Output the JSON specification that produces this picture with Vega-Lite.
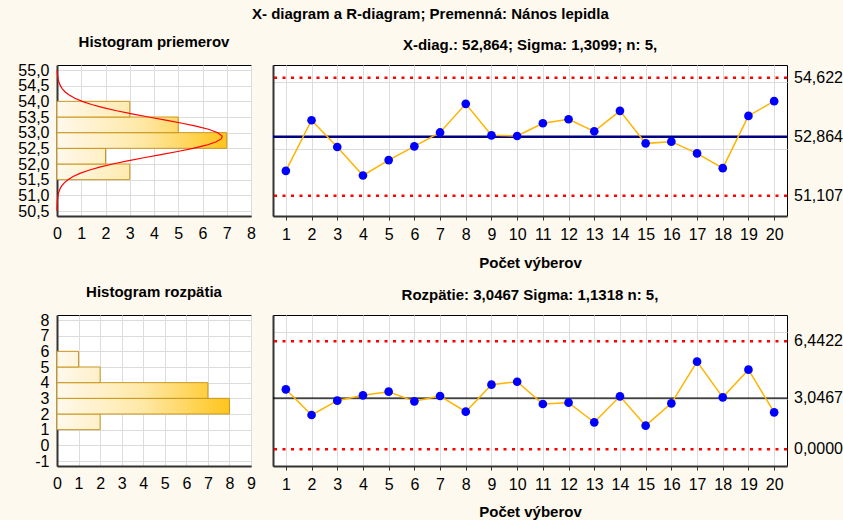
{
  "$schema": "https://vega.github.io/schema/vega-lite/v6.json",
  "background": "#FEF9EE",
  "padding": {"left": 17, "top": 6, "right": 0, "bottom": 0},
  "title": {"text": "X- diagram a R-diagram; Premenná: Nános lepidla", "anchor": "middle", "fontSize": 15, "offset": 13},
  "datasets": {
    "xbar": [
      {"s": 1, "v": 51.846}, {"s": 2, "v": 53.353}, {"s": 3, "v": 52.555}, {"s": 4, "v": 51.707},
      {"s": 5, "v": 52.166}, {"s": 6, "v": 52.575}, {"s": 7, "v": 52.99}, {"s": 8, "v": 53.842},
      {"s": 9, "v": 52.904}, {"s": 10, "v": 52.884}, {"s": 11, "v": 53.263}, {"s": 12, "v": 53.383},
      {"s": 13, "v": 53.024}, {"s": 14, "v": 53.633}, {"s": 15, "v": 52.665}, {"s": 16, "v": 52.715},
      {"s": 17, "v": 52.365}, {"s": 18, "v": 51.926}, {"s": 19, "v": 53.483}, {"s": 20, "v": 53.922}
    ],
    "xlim": [{"k": "UCL", "v": 54.622, "t": "54,622"}, {"k": "CL", "v": 52.864, "t": "52,864"}, {"k": "LCL", "v": 51.107, "t": "51,107"}],
    "xhist": [
      {"lo": 51.5, "hi": 52.0, "n": 3}, {"lo": 52.0, "hi": 52.5, "n": 2}, {"lo": 52.5, "hi": 53.0, "n": 7},
      {"lo": 53.0, "hi": 53.5, "n": 5}, {"lo": 53.5, "hi": 54.0, "n": 3}
    ],
    "xcurve": [
      {"y": 50.5, "n": 0.002}, {"y": 50.6, "n": 0.0039}, {"y": 50.7, "n": 0.0074}, {"y": 50.8, "n": 0.0137},
      {"y": 50.9, "n": 0.0247}, {"y": 51.0, "n": 0.0431}, {"y": 51.1, "n": 0.0732}, {"y": 51.2, "n": 0.12},
      {"y": 51.3, "n": 0.193}, {"y": 51.4, "n": 0.3}, {"y": 51.5, "n": 0.453}, {"y": 51.6, "n": 0.664},
      {"y": 51.7, "n": 0.946}, {"y": 51.8, "n": 1.309}, {"y": 51.9, "n": 1.758}, {"y": 52.0, "n": 2.294},
      {"y": 52.1, "n": 2.911}, {"y": 52.2, "n": 3.582}, {"y": 52.3, "n": 4.284}, {"y": 52.4, "n": 4.977},
      {"y": 52.5, "n": 5.614}, {"y": 52.6, "n": 6.152}, {"y": 52.7, "n": 6.549}, {"y": 52.8, "n": 6.769},
      {"y": 52.864, "n": 6.81}, {"y": 52.9, "n": 6.797}, {"y": 53.0, "n": 6.629}, {"y": 53.1, "n": 6.28},
      {"y": 53.2, "n": 5.777}, {"y": 53.3, "n": 5.163}, {"y": 53.4, "n": 4.481}, {"y": 53.5, "n": 3.778},
      {"y": 53.6, "n": 3.093}, {"y": 53.7, "n": 2.46}, {"y": 53.8, "n": 1.9}, {"y": 53.9, "n": 1.426},
      {"y": 54.0, "n": 1.039}, {"y": 54.1, "n": 0.735}, {"y": 54.2, "n": 0.505}, {"y": 54.3, "n": 0.338},
      {"y": 54.4, "n": 0.219}, {"y": 54.5, "n": 0.138}, {"y": 54.6, "n": 0.0844}, {"y": 54.7, "n": 0.0501},
      {"y": 54.8, "n": 0.0289}, {"y": 54.9, "n": 0.0162}, {"y": 55.0, "n": 0.0088}
    ],
    "r": [
      {"s": 1, "v": 3.569}, {"s": 2, "v": 2.039}, {"s": 3, "v": 2.894}, {"s": 4, "v": 3.212},
      {"s": 5, "v": 3.43}, {"s": 6, "v": 2.854}, {"s": 7, "v": 3.172}, {"s": 8, "v": 2.238},
      {"s": 9, "v": 3.847}, {"s": 10, "v": 4.02}, {"s": 11, "v": 2.695}, {"s": 12, "v": 2.775},
      {"s": 13, "v": 1.602}, {"s": 14, "v": 3.152}, {"s": 15, "v": 1.404}, {"s": 16, "v": 2.735},
      {"s": 17, "v": 5.218}, {"s": 18, "v": 3.092}, {"s": 19, "v": 4.742}, {"s": 20, "v": 2.198}
    ],
    "rlim": [{"k": "UCL", "v": 6.4422, "t": "6,4422"}, {"k": "CL", "v": 3.0467, "t": "3,0467"}, {"k": "LCL", "v": 0, "t": "0,0000"}],
    "rhist": [
      {"lo": 1, "hi": 2, "n": 2}, {"lo": 2, "hi": 3, "n": 8}, {"lo": 3, "hi": 4, "n": 7},
      {"lo": 4, "hi": 5, "n": 2}, {"lo": 5, "hi": 6, "n": 1}
    ]
  },
  "spacing": 13,
  "vconcat": [
    {
      "spacing": 15,
      "hconcat": [
        {
          "width": 194, "height": 151,
          "title": {"text": "Histogram priemerov", "offset": 12},
          "layer": [
            {
              "data": {"name": "xhist"},
              "mark": {"type": "bar", "orient": "horizontal", "stroke": "#C9961F", "strokeWidth": 1},
              "encoding": {
                "x": {"field": "n", "type": "quantitative", "scale": {"domain": [0, 8], "nice": false},
                      "axis": {"values": [0,1,2,3,4,5,6,7,8], "title": null, "grid": true, "tickSize": 0, "labelPadding": 9, "format": "d", "labelOverlap": false}},
                "y": {"field": "lo", "type": "quantitative", "scale": {"domain": [50.5, 55], "nice": false, "zero": false},
                      "axis": {"values": [50.5,51,51.5,52,52.5,53,53.5,54,54.5,55], "title": null, "grid": true, "tickSize": 0, "labelPadding": 8, "minExtent": 32, "maxExtent": 32, "labelOverlap": false,
                               "labelExpr": "replace(format(datum.value, '.1f'), '.', ',')"}},
                "y2": {"field": "hi"},
                "fill": {
                  "condition": [
                    {"test": "datum.n == 7", "value": {"gradient": "linear", "x1": 0, "y1": 0, "x2": 1, "y2": 0, "stops": [{"offset": 0, "color": "#FFF9EC"}, {"offset": 0.5, "color": "#FFE8A6"}, {"offset": 1, "color": "#FFC51C"}]}},
                    {"test": "datum.n == 5", "value": {"gradient": "linear", "x1": 0, "y1": 0, "x2": 1.4, "y2": 0, "stops": [{"offset": 0, "color": "#FFF9EC"}, {"offset": 0.5, "color": "#FFE8A6"}, {"offset": 1, "color": "#FFC51C"}]}},
                    {"test": "datum.n == 3", "value": {"gradient": "linear", "x1": 0, "y1": 0, "x2": 2.333, "y2": 0, "stops": [{"offset": 0, "color": "#FFF9EC"}, {"offset": 0.5, "color": "#FFE8A6"}, {"offset": 1, "color": "#FFC51C"}]}}
                  ],
                  "value": {"gradient": "linear", "x1": 0, "y1": 0, "x2": 3.5, "y2": 0, "stops": [{"offset": 0, "color": "#FFF9EC"}, {"offset": 0.5, "color": "#FFE8A6"}, {"offset": 1, "color": "#FFC51C"}]}
                }
              }
            },
            {
              "data": {"name": "xcurve"},
              "mark": {"type": "line", "color": "#FF0000", "strokeWidth": 1.2},
              "encoding": {
                "x": {"field": "n", "type": "quantitative",
                      "axis": {"values": [0,1,2,3,4,5,6,7,8], "title": null, "grid": true, "tickSize": 0, "labelPadding": 9, "format": "d", "labelOverlap": false}},
                "y": {"field": "y", "type": "quantitative",
                      "axis": {"values": [50.5,51,51.5,52,52.5,53,53.5,54,54.5,55], "title": null, "grid": true, "tickSize": 0, "labelPadding": 8, "minExtent": 32, "maxExtent": 32, "labelOverlap": false,
                               "labelExpr": "replace(format(datum.value, '.1f'), '.', ',')"}},
                "order": {"field": "y", "type": "quantitative"}
              }
            }
          ]
        },
        {
          "width": 514, "height": 151,
          "title": {"text": "X-diag.: 52,864; Sigma: 1,3099; n: 5,", "offset": 12},
          "layer": [
            {
              "data": {"name": "xlim"},
              "transform": [{"filter": "datum.k == 'CL'"}],
              "mark": {"type": "rule", "color": "#000080", "strokeWidth": 2.5},
              "encoding": {
                "y": {"field": "v", "type": "quantitative", "scale": {"domain": [50.5, 55], "nice": false, "zero": false},
                      "axis": {"values": [50.5,51,51.5,52,52.5,53,53.5,54,54.5,55], "labels": false, "title": null, "grid": true, "ticks": false, "minExtent": 0, "maxExtent": 0}}
              }
            },
            {
              "data": {"name": "xlim"},
              "transform": [{"filter": "datum.k != 'CL'"}],
              "mark": {"type": "rule", "color": "#FF0000", "strokeWidth": 2.5, "strokeDash": [3, 5.5]},
              "encoding": {
                "y": {"field": "v", "type": "quantitative"}
              }
            },
            {
              "data": {"name": "xlim"},
              "mark": {"type": "text", "align": "left", "baseline": "middle", "dx": 7, "fontSize": 16, "color": "#000000"},
              "encoding": {
                "x": {"datum": 20.5,
                      "axis": {"values": [1,2,3,4,5,6,7,8,9,10,11,12,13,14,15,16,17,18,19,20], "title": "Počet výberov", "grid": true, "tickSize": 4, "labelPadding": 6, "titlePadding": 13, "labelOverlap": false}},
                "y": {"field": "v", "type": "quantitative"},
                "text": {"field": "t"}
              }
            },
            {
              "data": {"name": "xbar"},
              "mark": {"type": "line", "color": "#FFB400", "strokeWidth": 1.5},
              "encoding": {
                "x": {"field": "s", "type": "quantitative", "scale": {"domain": [0.5, 20.5], "nice": false, "zero": false},
                      "axis": {"values": [1,2,3,4,5,6,7,8,9,10,11,12,13,14,15,16,17,18,19,20], "title": "Počet výberov", "grid": true, "tickSize": 4, "labelPadding": 6, "titlePadding": 13, "labelOverlap": false}},
                "y": {"field": "v", "type": "quantitative"}
              }
            },
            {
              "data": {"name": "xbar"},
              "mark": {"type": "circle", "color": "#0000FF", "size": 75, "opacity": 1},
              "encoding": {
                "x": {"field": "s", "type": "quantitative",
                      "axis": {"values": [1,2,3,4,5,6,7,8,9,10,11,12,13,14,15,16,17,18,19,20], "title": "Počet výberov", "grid": true, "tickSize": 4, "labelPadding": 6, "titlePadding": 13, "labelOverlap": false}},
                "y": {"field": "v", "type": "quantitative"}
              }
            }
          ]
        }
      ]
    },
    {
      "spacing": 15,
      "hconcat": [
        {
          "width": 194, "height": 151,
          "title": {"text": "Histogram rozpätia", "offset": 12},
          "data": {"name": "rhist"},
          "mark": {"type": "bar", "orient": "horizontal", "stroke": "#C9961F", "strokeWidth": 1},
          "encoding": {
            "x": {"field": "n", "type": "quantitative", "scale": {"domain": [0, 9], "nice": false},
                  "axis": {"values": [0,1,2,3,4,5,6,7,8,9], "title": null, "grid": true, "tickSize": 0, "labelPadding": 9, "format": "d", "labelOverlap": false}},
            "y": {"field": "lo", "type": "quantitative", "scale": {"domain": [-1, 8], "nice": false, "zero": false},
                  "axis": {"values": [-1,0,1,2,3,4,5,6,7,8], "title": null, "grid": true, "tickSize": 0, "labelPadding": 8, "minExtent": 32, "maxExtent": 32, "labelOverlap": false,
                           "labelExpr": "'' + datum.value"}},
            "y2": {"field": "hi"},
            "fill": {
              "condition": [
                {"test": "datum.n == 8", "value": {"gradient": "linear", "x1": 0, "y1": 0, "x2": 1, "y2": 0, "stops": [{"offset": 0, "color": "#FFF9EC"}, {"offset": 0.5, "color": "#FFE8A6"}, {"offset": 1, "color": "#FFC51C"}]}},
                {"test": "datum.n == 7", "value": {"gradient": "linear", "x1": 0, "y1": 0, "x2": 1.143, "y2": 0, "stops": [{"offset": 0, "color": "#FFF9EC"}, {"offset": 0.5, "color": "#FFE8A6"}, {"offset": 1, "color": "#FFC51C"}]}},
                {"test": "datum.n == 2", "value": {"gradient": "linear", "x1": 0, "y1": 0, "x2": 4, "y2": 0, "stops": [{"offset": 0, "color": "#FFF9EC"}, {"offset": 0.5, "color": "#FFE8A6"}, {"offset": 1, "color": "#FFC51C"}]}}
              ],
              "value": {"gradient": "linear", "x1": 0, "y1": 0, "x2": 8, "y2": 0, "stops": [{"offset": 0, "color": "#FFF9EC"}, {"offset": 0.5, "color": "#FFE8A6"}, {"offset": 1, "color": "#FFC51C"}]}
            }
          }
        },
        {
          "width": 514, "height": 151,
          "title": {"text": "Rozpätie: 3,0467 Sigma: 1,1318 n: 5,", "offset": 12},
          "layer": [
            {
              "data": {"name": "rlim"},
              "transform": [{"filter": "datum.k == 'CL'"}],
              "mark": {"type": "rule", "color": "#000000", "strokeWidth": 1.2},
              "encoding": {
                "y": {"field": "v", "type": "quantitative", "scale": {"domain": [-1, 8], "nice": false, "zero": false},
                      "axis": {"values": [-1,0,1,2,3,4,5,6,7,8], "labels": false, "title": null, "grid": true, "ticks": false, "minExtent": 0, "maxExtent": 0}}
              }
            },
            {
              "data": {"name": "rlim"},
              "transform": [{"filter": "datum.k != 'CL'"}],
              "mark": {"type": "rule", "color": "#FF0000", "strokeWidth": 2.5, "strokeDash": [3, 5.5]},
              "encoding": {
                "y": {"field": "v", "type": "quantitative"}
              }
            },
            {
              "data": {"name": "rlim"},
              "mark": {"type": "text", "align": "left", "baseline": "middle", "dx": 7, "fontSize": 16, "color": "#000000"},
              "encoding": {
                "x": {"datum": 20.5,
                      "axis": {"values": [1,2,3,4,5,6,7,8,9,10,11,12,13,14,15,16,17,18,19,20], "title": "Počet výberov", "grid": true, "tickSize": 4, "labelPadding": 6, "titlePadding": 12, "labelOverlap": false}},
                "y": {"field": "v", "type": "quantitative"},
                "text": {"field": "t"}
              }
            },
            {
              "data": {"name": "r"},
              "mark": {"type": "line", "color": "#FFB400", "strokeWidth": 1.5},
              "encoding": {
                "x": {"field": "s", "type": "quantitative", "scale": {"domain": [0.5, 20.5], "nice": false, "zero": false},
                      "axis": {"values": [1,2,3,4,5,6,7,8,9,10,11,12,13,14,15,16,17,18,19,20], "title": "Počet výberov", "grid": true, "tickSize": 4, "labelPadding": 6, "titlePadding": 12, "labelOverlap": false}},
                "y": {"field": "v", "type": "quantitative"}
              }
            },
            {
              "data": {"name": "r"},
              "mark": {"type": "circle", "color": "#0000FF", "size": 75, "opacity": 1},
              "encoding": {
                "x": {"field": "s", "type": "quantitative",
                      "axis": {"values": [1,2,3,4,5,6,7,8,9,10,11,12,13,14,15,16,17,18,19,20], "title": "Počet výberov", "grid": true, "tickSize": 4, "labelPadding": 6, "titlePadding": 12, "labelOverlap": false}},
                "y": {"field": "v", "type": "quantitative"}
              }
            }
          ]
        }
      ]
    }
  ],
  "config": {
    "font": "Liberation Sans",
    "view": {"stroke": "#000000", "strokeWidth": 1, "fill": "#FFFFFF"},
    "axis": {
      "labelFont": "Liberation Sans", "labelFontSize": 16, "labelColor": "#000000",
      "gridColor": "#DCDCDC", "gridWidth": 1, "gridOpacity": 1,
      "domainColor": "#333333", "domainWidth": 2, "tickColor": "#333333",
      "titleFont": "Liberation Sans", "titleFontSize": 15, "titleFontWeight": "bold", "titleColor": "#000000",
      "labelFlush": false, "labelOverlap": false
    },
    "title": {"font": "Liberation Sans", "fontSize": 15, "fontWeight": "bold", "color": "#000000", "offset": 14}
  }
}
